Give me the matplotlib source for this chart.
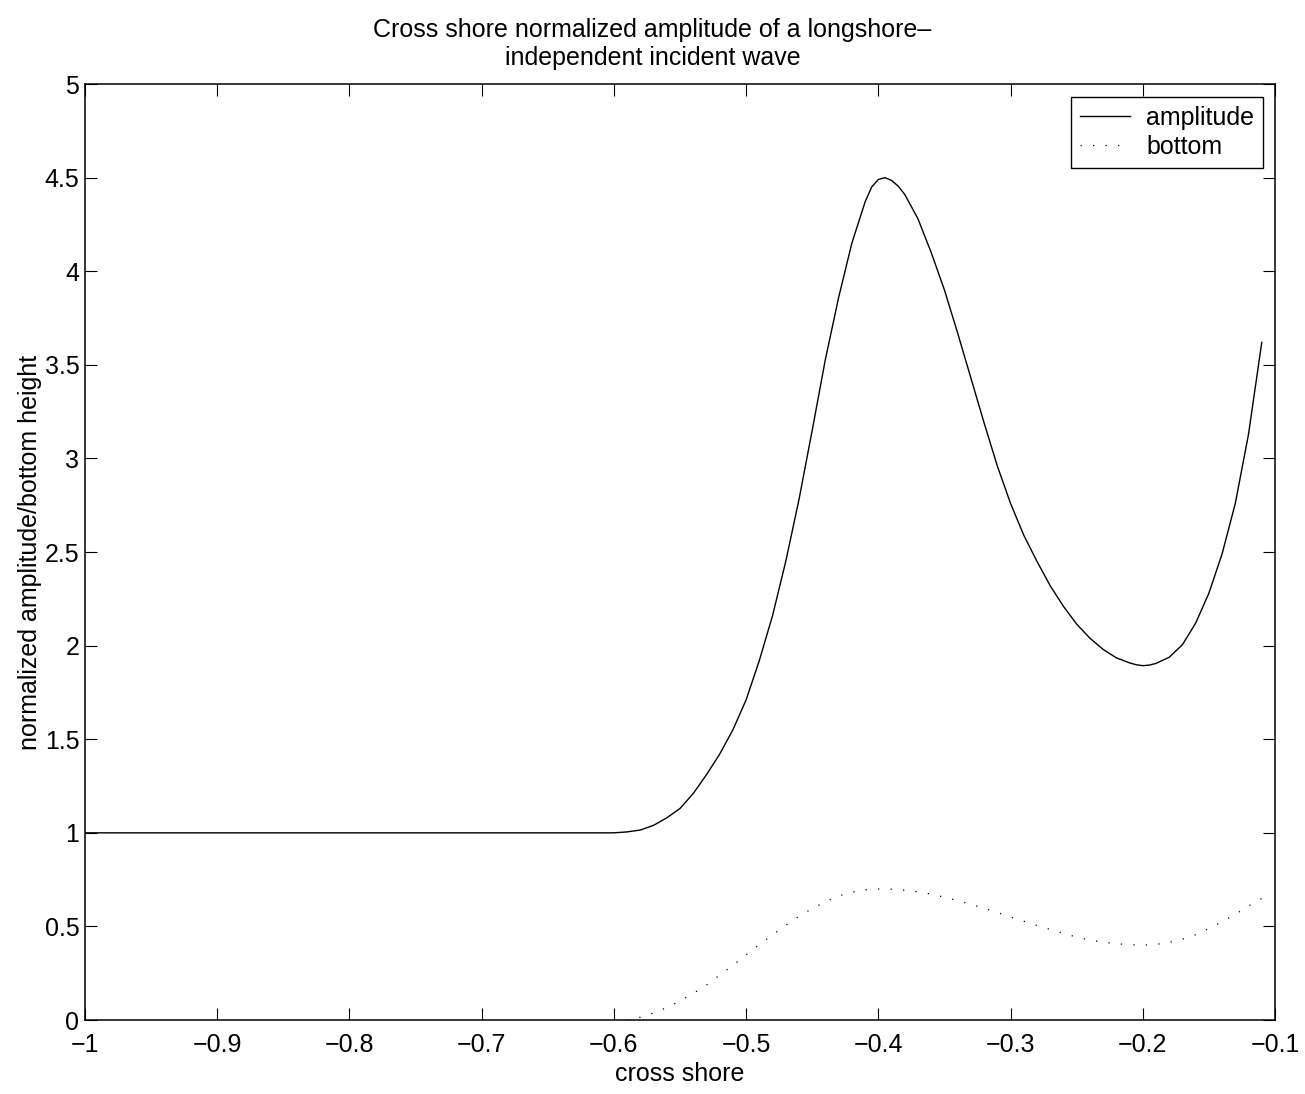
# Cross shore amplitude of an incident wave, redrawn from a MATLAB figure

import numpy as np
import matplotlib
matplotlib.use('Agg')
import matplotlib.pyplot as plt
from matplotlib.ticker import FuncFormatter

# amplitude curve
amp_x = [-1.00, -0.60, -0.59, -0.58, -0.57, -0.56, -0.55, -0.54, -0.53, -0.52,
         -0.51, -0.50, -0.49, -0.48, -0.47, -0.46, -0.45, -0.44, -0.43, -0.42,
         -0.41, -0.405, -0.40, -0.395, -0.39, -0.385, -0.38, -0.37, -0.36,
         -0.35, -0.34, -0.33, -0.32, -0.31, -0.30, -0.29, -0.28, -0.27, -0.26,
         -0.25, -0.24, -0.23, -0.22, -0.21, -0.205, -0.20, -0.195, -0.19,
         -0.18, -0.17, -0.16, -0.15, -0.14, -0.13, -0.12, -0.11]
amp_y = [1.0, 1.0, 1.005, 1.015, 1.04, 1.08, 1.13, 1.21, 1.31, 1.42,
         1.55, 1.71, 1.92, 2.16, 2.45, 2.78, 3.15, 3.53, 3.86, 4.15,
         4.37, 4.45, 4.49, 4.50, 4.485, 4.455, 4.41, 4.28, 4.10,
         3.90, 3.67, 3.43, 3.19, 2.96, 2.76, 2.59, 2.45, 2.32, 2.21,
         2.115, 2.04, 1.98, 1.935, 1.908, 1.898, 1.893, 1.896, 1.905,
         1.938, 2.005, 2.12, 2.28, 2.49, 2.76, 3.13, 3.62]

# bottom height curve
bot_x = [-0.59, -0.58, -0.57, -0.56, -0.55, -0.54, -0.53, -0.52, -0.51, -0.50,
         -0.49, -0.48, -0.47, -0.46, -0.45, -0.44, -0.43, -0.42, -0.41, -0.40,
         -0.39, -0.38, -0.37, -0.36, -0.35, -0.34, -0.33, -0.32, -0.31, -0.30,
         -0.29, -0.28, -0.27, -0.26, -0.25, -0.24, -0.23, -0.22, -0.21, -0.20,
         -0.19, -0.18, -0.17, -0.16, -0.15, -0.14, -0.13, -0.12, -0.11]
bot_y = [0.0, 0.015, 0.038, 0.066, 0.102, 0.142, 0.187, 0.240, 0.292, 0.348,
         0.403, 0.455, 0.506, 0.555, 0.595, 0.632, 0.663, 0.683, 0.696, 0.700,
         0.699, 0.693, 0.685, 0.673, 0.656, 0.638, 0.618, 0.597, 0.575, 0.550,
         0.528, 0.505, 0.484, 0.463, 0.443, 0.427, 0.416, 0.408, 0.402, 0.400,
         0.404, 0.415, 0.432, 0.456, 0.489, 0.525, 0.565, 0.609, 0.650]

x_ticks = [-1, -0.9, -0.8, -0.7, -0.6, -0.5, -0.4, -0.3, -0.2, -0.1]
y_ticks = [0, 0.5, 1, 1.5, 2, 2.5, 3, 3.5, 4, 4.5, 5]


def fmt(v, pos):
    return ('%g' % v).replace('-', '\u2212')


def main():
    plt.rcParams['font.family'] = ['Liberation Sans', 'DejaVu Sans']
    plt.rcParams['font.size'] = 18

    fig = plt.figure(figsize=(13.05, 10.94), dpi=100)
    ax = fig.add_axes([0.0651, 0.0676, 0.9119, 0.8556])

    ax.plot(amp_x, amp_y, color='black', lw=1.0, label='amplitude')
    ax.plot(bot_x, bot_y, color='black', lw=0.9, ls=(0, (1, 9)),
            label='bottom')

    ax.set_xlim(-1, -0.1)
    ax.set_ylim(0, 5)
    ax.set_xticks(x_ticks)
    ax.set_yticks(y_ticks)
    ax.xaxis.set_major_formatter(FuncFormatter(fmt))
    ax.yaxis.set_major_formatter(FuncFormatter(fmt))
    ax.tick_params(direction='in', length=8.5, width=0.8, top=True,
                   right=True, labelsize=18)
    ax.tick_params(axis='x', pad=9)
    ax.tick_params(axis='y', pad=4)
    for s in ax.spines.values():
        s.set_linewidth(1.1)

    ax.set_title('Cross shore normalized amplitude of a longshore\u2013\n'
                 'independent incident wave', fontsize=18, pad=14,
                 linespacing=1.2, x=0.477)
    ax.set_xlabel('cross shore', fontsize=18, labelpad=4)
    ax.set_ylabel('normalized amplitude/bottom height', fontsize=18,
                  labelpad=2)

    leg = ax.legend(loc='upper right', bbox_to_anchor=(0.99, 0.986),
                    fancybox=False, edgecolor='black', framealpha=1,
                    handlelength=2.0, handletextpad=0.65, borderpad=0.35,
                    labelspacing=0.2, borderaxespad=0, fontsize=18)
    leg.get_frame().set_linewidth(1.0)

    fig.savefig('out.png', dpi=100)


if __name__ == '__main__':
    main()
